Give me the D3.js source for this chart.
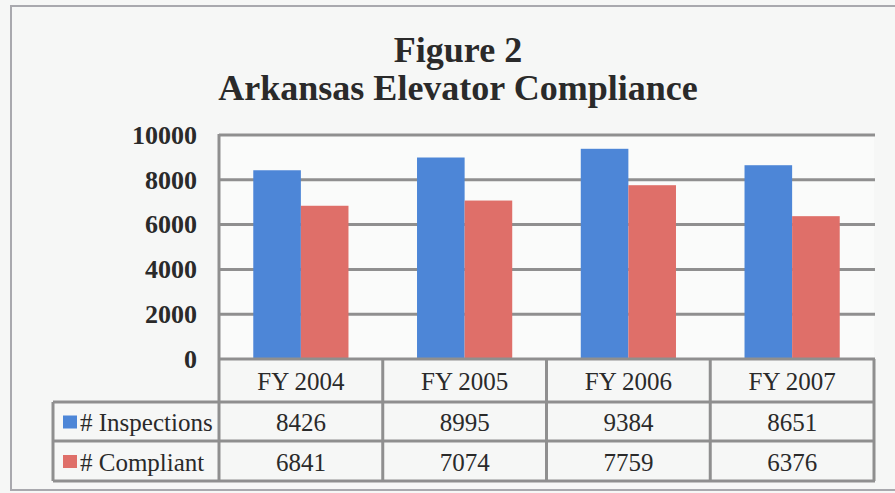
<!DOCTYPE html>
<html><head><meta charset="utf-8">
<script src="https://cdn.jsdelivr.net/npm/d3@7"></script>
<style>
html,body{margin:0;padding:0;background:#f6f7f6;}
svg{display:block;}
text{font-family:"Liberation Serif","Times New Roman",serif;fill:#2a2a2a;}
</style></head>
<body>
<svg id="chart" width="895" height="493"></svg>
<script>
const categories = ["FY 2004", "FY 2005", "FY 2006", "FY 2007"];
const seriesNames = ["# Inspections", "# Compliant"];
const inspections = [8426, 8995, 9384, 8651];
const compliant = [6841, 7074, 7759, 6376];
const yTicks = [0, 2000, 4000, 6000, 8000, 10000];
const titleLines = ["Figure 2", "Arkansas Elevator Compliance"];
const colors = ["#4d86d7", "#df6f69"];

const svg = d3.select("#chart");
const W = 895, H = 493;
const pL = 219, pR = 874, pT = 135, pB = 359;
const gridColor = "#8f8f8f";
const series = [inspections, compliant];

svg.append("rect").attr("width", W).attr("height", H).attr("fill", "#f6f7f6");
svg.append("path").attr("d", `M895,6 H11 V490 H895`).attr("fill", "none")
  .attr("stroke", "#a9a9ae").attr("stroke-width", 2);

// title
svg.selectAll("text.title").data(titleLines).join("text")
  .attr("class", "title")
  .attr("x", 458).attr("y", (d, i) => i === 0 ? 62 : 100)
  .attr("text-anchor", "middle")
  .attr("font-size", 36).attr("font-weight", "bold")
  .text(d => d);

const x = d3.scaleBand().domain(categories).range([pL, pR]).padding(0);
const x1 = d3.scaleBand().domain(seriesNames).range([0, x.bandwidth()]).paddingInner(0).paddingOuter(0.72);
const y = d3.scaleLinear().domain([0, 10000]).range([pB, pT]);

svg.append("rect").attr("x", pL).attr("y", pT).attr("width", pR - pL).attr("height", pB - pT)
  .attr("fill", "#fafbfa");

// gridlines
svg.append("g").selectAll("line").data(yTicks.filter(t => t > 0)).join("line")
  .attr("x1", pL).attr("x2", pR + 1)
  .attr("y1", d => y(d)).attr("y2", d => y(d))
  .attr("stroke", gridColor).attr("stroke-width", 3);

// y axis
const yAxis = d3.axisLeft(y).tickValues(yTicks).tickSize(0).tickPadding(22).tickFormat(d3.format("d"));
const gy = svg.append("g").attr("transform", `translate(${pL},0)`).call(yAxis);
gy.select(".domain").remove();
gy.selectAll("text").attr("font-size", 26).attr("font-weight", "bold")
  .attr("font-family", "'Liberation Serif', serif").attr("fill", "#2a2a2a").attr("dy", "0.32em");

// bars
const groups = svg.append("g").selectAll("g").data(categories).join("g")
  .attr("transform", d => `translate(${x(d)},0)`);
groups.selectAll("rect").data((c, ci) => seriesNames.map((s, si) => ({s, si, v: series[si][ci]}))).join("rect")
  .attr("x", d => x1(d.s)).attr("width", x1.bandwidth())
  .attr("y", d => y(d.v)).attr("height", d => y(0) - y(d.v))
  .attr("fill", d => colors[d.si]);

// table
const headTop = pB, headBot = 402, row1Bot = 441, row2Bot = 481, tableLeft = 53;
const tg = svg.append("g").attr("stroke", gridColor).attr("stroke-width", 3).attr("fill", "none");
tg.append("line").attr("x1", pL).attr("x2", pL).attr("y1", pT - 1).attr("y2", row2Bot);
tg.append("line").attr("x1", pL).attr("x2", pR + 1).attr("y1", headTop).attr("y2", headTop);
[headBot, row1Bot, row2Bot].forEach(yy =>
  tg.append("line").attr("x1", tableLeft).attr("x2", pR + 1).attr("y1", yy).attr("y2", yy));
tg.append("line").attr("x1", tableLeft).attr("x2", tableLeft).attr("y1", headBot).attr("y2", row2Bot);
categories.forEach(c => {
  const xe = x(c) + x.bandwidth();
  tg.append("line").attr("x1", xe).attr("x2", xe).attr("y1", headTop).attr("y2", row2Bot);
});

svg.append("g").selectAll("text").data(categories).join("text")
  .attr("x", d => x(d) + x.bandwidth() / 2).attr("y", (headTop + headBot) / 2 + 1)
  .attr("dy", "0.35em").attr("text-anchor", "middle").attr("font-size", 25).text(d => d);

const rowMid = [(headBot + row1Bot) / 2 + 1, (row1Bot + row2Bot) / 2 + 1];
seriesNames.forEach((s, si) => {
  svg.append("rect").attr("x", 63).attr("y", rowMid[si] - 7).attr("width", 14).attr("height", 13)
    .attr("fill", colors[si]);
  svg.append("text").attr("x", 80).attr("y", rowMid[si]).attr("dy", "0.35em")
    .attr("font-size", 25).text(s);
  svg.append("g").selectAll("text").data(series[si]).join("text")
    .attr("x", (d, i) => x(categories[i]) + x.bandwidth() / 2).attr("y", rowMid[si])
    .attr("dy", "0.35em").attr("text-anchor", "middle").attr("font-size", 25).text(d => d);
});
</script>
</body></html>
